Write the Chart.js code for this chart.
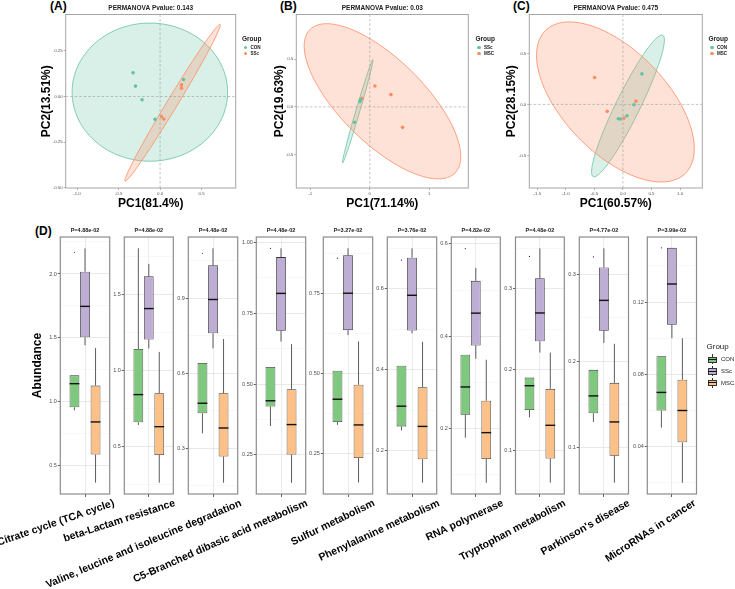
<!DOCTYPE html>
<html lang="en">
<head>
<meta charset="UTF-8" />
<title>PCA and pathway abundance</title>
<script src="https://cdn.jsdelivr.net/npm/chart.js@4.4.1/dist/chart.umd.min.js"></script>
<style>
  body { margin: 0; background: #fff; font-family: "Liberation Sans", Arial, Helvetica, sans-serif; }
  #wrap { position: relative; width: 735px; height: 589px; overflow: hidden; background: #fff; }
  #wrap canvas { position: absolute; left: 0; top: 0; }
  .tag { position: absolute; font-weight: bold; font-size: 12px; line-height: 12px; color: #000; }
  .lg { position: absolute; white-space: nowrap; color: #222; }
</style>
</head>
<body>
<div id="wrap">
  <div class="tag" style="left:50px; top:0px;">(A)</div>
  <div class="tag" style="left:280px; top:0px;">(B)</div>
  <div class="tag" style="left:513px; top:0px;">(C)</div>
  <div class="tag" style="left:35px; top:225px;">(D)</div>
</div>

<script>
// ---------- data: PCA panels ----------
const pcaTitles = ['PERMANOVA Pvalue: 0.143', 'PERMANOVA Pvalue: 0.03', 'PERMANOVA Pvalue: 0.475'];
const pcaGroups = [['CON', 'SSc'], ['SSc', 'MSC'], ['CON', 'MSC']];
const pc1Labels = ['PC1(81.4%)', 'PC1(71.14%)', 'PC1(60.57%)'];
const pc2Labels = ['PC2(13.51%)', 'PC2(19.63%)', 'PC2(28.15%)'];
const pcaXTicks = [[-1.0, -0.5, 0.0, 0.5], [-1, 0, 1], [-1.5, -1.0, -0.5, 0.0, 0.5, 1.0]];
const pcaYTicks = [[-0.50, -0.25, 0.00, 0.25], [-0.5, 0.0, 0.5], [-0.5, 0.0, 0.5]];
const pcaXDigits = [1, 0, 1];
const pcaYDigits = [2, 1, 1];
const pcaXRange = [[-1.136, 0.91], [-1.235, 1.655], [-1.64, 1.39]];
const pcaYRange = [[-0.502, 0.45], [-0.85, 0.969], [-0.819, 0.881]];

// sample scores [PC1, PC2]
const ptsA_CON = [[-0.325, 0.130], [-0.296, 0.057], [-0.217, -0.018], [-0.06, -0.125], [0.282, 0.093]];
const ptsA_SSc = [[0.258, 0.064], [0.258, 0.046], [0.017, -0.110], [0.045, -0.123]];
const ptsB_SSc = [[-0.166, 0.056], [-0.155, 0.077], [-0.257, -0.161]];
const ptsB_MSC = [[0.086, 0.22], [0.355, 0.129], [0.55, -0.214], [-0.133, 0.09]];
const ptsC_CON = [[0.333, 0.299], [0.193, -0.004], [0.07, -0.111], [-0.082, -0.14], [-0.04, -0.143]];
const ptsC_MSC = [[-0.497, 0.264], [-0.275, -0.068], [0.228, 0.032], [0.018, -0.134]];

// confidence ellipses: [cx, cy, axis1 x, axis1 y, axis2 x, axis2 y]
const ellA_CON = [-0.123, 0.024, 0.936, 0, 0, 0.379];
const ellA_SSc = [0.151, -0.034, 0.572, 0.430, 0.054, -0.015];
const ellB_SSc = [-0.203, -0.046, 0.255, 0.542, 0.032, -0.006];
const ellB_MSC = [0.213, 0.059, 1.22, -0.751, 0.492, 0.313];
const ellC_CON = [0.088, -0.015, 0.609, 0.692, 0.189, -0.052];
const ellC_MSC = [-0.132, 0.024, 1.221, -0.702, 0.647, 0.35];

const pcaPoints = [[ptsA_CON, ptsA_SSc], [ptsB_SSc, ptsB_MSC], [ptsC_CON, ptsC_MSC]];
const pcaEllipses = [[ellA_CON, ellA_SSc], [ellB_SSc, ellB_MSC], [ellC_CON, ellC_MSC]];

// ---------- data: boxplots ----------
const pathways = ['Citrate cycle (TCA cycle)', 'beta-Lactam resistance', 'Valine, leucine and isoleucine degradation',
  'C5-Branched dibasic acid metabolism', 'Sulfur metabolism', 'Phenylalanine metabolism', 'RNA polymerase',
  'Tryptophan metabolism', "Parkinson's disease", 'MicroRNAs in cancer'];
const pLabels = ['P=4.88e-02', 'P=4.88e-02', 'P=4.48e-02', 'P=4.48e-02', 'P=3.27e-02',
  'P=3.76e-02', 'P=4.82e-02', 'P=4.48e-02', 'P=4.77e-02', 'P=3.99e-02'];
const boxGroups = ['CON', 'SSc', 'MSC'];

// [lower whisker, Q1, median, Q3, upper whisker]
const conStats = [
  [0.935, 0.958, 1.143, 1.208, 1.208], [0.640, 0.658, 0.840, 1.140, 1.803], [0.36, 0.44, 0.48, 0.641, 0.641],
  [0.352, 0.421, 0.441, 0.560, 0.560], [0.34, 0.349, 0.42, 0.509, 0.509], [0.25, 0.26, 0.31, 0.41, 0.41],
  [0.18, 0.23, 0.29, 0.36, 0.36], [0.141, 0.15, 0.18, 0.19, 0.19], [0.13, 0.14, 0.16, 0.19, 0.19],
  [0.0505, 0.06, 0.07, 0.09, 0.09]];
const sscStats = [
  [1.443, 1.505, 1.747, 2.018, 2.20], [1.143, 1.202, 1.406, 1.618, 1.70], [0.70, 0.76, 0.895, 1.032, 1.10],
  [0.650, 0.688, 0.820, 0.948, 0.979], [0.62, 0.635, 0.75, 0.868, 0.89], [0.49, 0.497, 0.584, 0.677, 0.70],
  [0.351, 0.38, 0.45, 0.52, 0.548], [0.221, 0.235, 0.27, 0.313, 0.35], [0.221, 0.235, 0.27, 0.308, 0.33],
  [0.10, 0.1075, 0.13, 0.15, 0.15]];
const mscStats = [
  [0.37, 0.589, 0.844, 1.128, 1.422], [0.26, 0.443, 0.629, 0.849, 1.121], [0.162, 0.267, 0.381, 0.52, 0.737],
  [0.151, 0.251, 0.357, 0.482, 0.641], [0.161, 0.237, 0.34, 0.465, 0.60], [0.121, 0.179, 0.26, 0.357, 0.469],
  [0.082, 0.134, 0.191, 0.26, 0.349], [0.06, 0.09, 0.131, 0.176, 0.221], [0.06, 0.091, 0.13, 0.175, 0.22],
  [0.02, 0.0424, 0.06, 0.077, 0.10]];
const conOutliers = [2.17, null, 1.08, 0.979, 0.859, 0.671, 0.59, 0.34, 0.32, 0.15];

const boxYRange = [[0.281, 2.289], [0.186, 1.877], [0.117, 1.145], [0.112, 1.019], [0.125, 0.925],
  [0.093, 0.728], [0.058, 0.615], [0.046, 0.364], [0.047, 0.343], [0.0138, 0.156]];
const boxYTicks = [[0.5, 1.0, 1.5, 2.0], [0.5, 1.0, 1.5], [0.3, 0.6, 0.9], [0.25, 0.50, 0.75, 1.00],
  [0.25, 0.50, 0.75], [0.2, 0.4, 0.6], [0.2, 0.4, 0.6], [0.1, 0.2, 0.3], [0.1, 0.2, 0.3], [0.04, 0.08, 0.12]];
const boxYDigits = [1, 1, 1, 2, 2, 1, 1, 1, 1, 2];

// ---------- layout & style ----------
const W = 735, H = 589;
const pcaColors = ['#66C2A5', '#FC8D62'];
const pcaFills = ['rgba(102,194,165,0.25)', 'rgba(252,141,98,0.25)'];
const pcaBox = [
  { left: 65.7, right: 235.7, axisLeft: 39.5, legend: 242 },
  { left: 296.3, right: 468.3, axisLeft: 272.1, legend: 475.5 },
  { left: 529.3, right: 702.3, axisLeft: 504.5, legend: 708.5 }];
const pcaTop = 14.5, pcaBottom = 188;
const boxFills = ['#7FC97F', '#BEAED4', '#FDC086'];
const panelLeft = [60.3, 124.3, 188.3, 256.3, 323.3, 387.3, 451.3, 515.5, 579.3, 647.3];
const panelRight = [109.7, 173.3, 237.7, 305.7, 372.7, 436.7, 500.3, 564.3, 628.5, 696.5];
const labelAngle = [19, 18, 23, 24, 26, 25, 25, 28, 30, 33];
const labelShift = [29, 26, 28, 26, 26, 27, 27, 25, 25, 23];
const boxTop = 237, boxBottom = 494;

Chart.defaults.font.family = '"Liberation Sans", Arial, Helvetica, sans-serif';
Chart.defaults.animation = false;
Chart.defaults.responsive = false;

const wrap = document.getElementById('wrap');
function addCanvas() {
  const c = document.createElement('canvas');
  c.width = W; c.height = H;
  wrap.appendChild(c);
  return c;
}

function borderPlugin(color, lw) {
  return {
    id: 'panelBorder',
    afterDatasetsDraw(chart) {
      const { ctx, chartArea: a } = chart;
      ctx.save();
      ctx.strokeStyle = color; ctx.lineWidth = lw;
      ctx.strokeRect(a.left, a.top, a.right - a.left, a.bottom - a.top);
      ctx.restore();
    }
  };
}

function ellipsePlugin(list) {
  return {
    id: 'ellipses',
    beforeDatasetsDraw(chart) {
      const { ctx, chartArea: a, scales: { x, y } } = chart;
      ctx.save();
      list.forEach((e, k) => {
        ctx.beginPath();
        for (let s = 0; s <= 120; s++) {
          const t = s / 120 * Math.PI * 2;
          const px = x.getPixelForValue(e[0] + e[2] * Math.cos(t) + e[4] * Math.sin(t));
          const py = y.getPixelForValue(e[1] + e[3] * Math.cos(t) + e[5] * Math.sin(t));
          s ? ctx.lineTo(px, py) : ctx.moveTo(px, py);
        }
        ctx.closePath();
        ctx.fillStyle = pcaFills[k];
        ctx.fill();
        ctx.strokeStyle = pcaColors[k];
        ctx.lineWidth = 0.8;
        ctx.stroke();
      });
      // zero reference lines
      ctx.strokeStyle = '#9a9a9a'; ctx.lineWidth = 0.6; ctx.setLineDash([2.5, 2]);
      ctx.beginPath();
      const x0 = x.getPixelForValue(0), y0 = y.getPixelForValue(0);
      ctx.moveTo(x0, a.top); ctx.lineTo(x0, a.bottom);
      ctx.moveTo(a.left, y0); ctx.lineTo(a.right, y0);
      ctx.stroke();
      ctx.restore();
    }
  };
}

function pcaChart(p) {
  const b = pcaBox[p];
  new Chart(addCanvas(), {
    type: 'scatter',
    data: {
      datasets: pcaPoints[p].map((pts, k) => ({
        label: pcaGroups[p][k],
        data: pts.map(([x, y]) => ({ x, y })),
        backgroundColor: pcaColors[k],
        borderWidth: 0,
        pointRadius: 1.8
      }))
    },
    options: {
      layout: { padding: { left: b.axisLeft, right: W - b.right, top: pcaTop - 9.8, bottom: H - pcaBottom - 22.5 } },
      plugins: {
        legend: { display: false },
        tooltip: { enabled: false },
        title: {
          display: true, text: pcaTitles[p], fullSize: false, color: '#222',
          font: { size: 6.5, weight: 'bold' }, padding: { top: 0, bottom: 2 }
        }
      },
      scales: {
        x: {
          type: 'linear', min: pcaXRange[p][0], max: pcaXRange[p][1],
          afterBuildTicks: s => { s.ticks = pcaXTicks[p].map(v => ({ value: v })); },
          afterFit: s => { s.height = 22.5; },
          ticks: { callback: v => v.toFixed(pcaXDigits[p]), font: { size: 4.4 }, color: '#555', padding: 1, maxRotation: 0 },
          grid: { drawOnChartArea: false, tickLength: 2, color: '#666', lineWidth: 0.5 },
          border: { display: false },
          title: { display: true, text: pc1Labels[p], color: '#000', font: { size: 12, weight: 'bold' }, padding: 0 }
        },
        y: {
          min: pcaYRange[p][0], max: pcaYRange[p][1],
          afterBuildTicks: s => { s.ticks = pcaYTicks[p].map(v => ({ value: v })); },
          afterFit: s => { s.width = b.left - b.axisLeft; },
          ticks: { callback: v => v.toFixed(pcaYDigits[p]), font: { size: 4.4 }, color: '#555', padding: 1 },
          grid: { drawOnChartArea: false, tickLength: 2, color: '#666', lineWidth: 0.5 },
          border: { display: false },
          title: { display: true, text: pc2Labels[p], color: '#000', font: { size: 12, weight: 'bold' }, padding: 0 }
        }
      }
    },
    plugins: [ellipsePlugin(pcaEllipses[p]), borderPlugin('#a5a5a5', 1)]
  });

  // legend
  const g = document.createElement('div');
  g.className = 'lg';
  g.style.cssText = 'left:' + b.legend + 'px; top:35px; font-size:6.5px; font-weight:bold;';
  g.textContent = 'Group';
  wrap.appendChild(g);
  pcaGroups[p].forEach((name, k) => {
    const it = document.createElement('div');
    it.className = 'lg';
    it.style.cssText = 'left:' + b.legend + 'px; top:' + (44.5 + k * 6.2) + 'px; font-size:4.6px; line-height:6px; font-weight:bold;';
    it.innerHTML = '<span style="display:inline-block;width:3.6px;height:3.6px;border-radius:50%;background:' +
      pcaColors[k] + ';margin:0 3.2px 0 1.6px;vertical-align:-0.6px"></span>' + name;
    wrap.appendChild(it);
  });
}

const boxStats = [conStats, sscStats, mscStats];

const boxExtras = {
  id: 'boxExtras',
  beforeDatasetsDraw(chart) {
    const { ctx, scales: { y } } = chart;
    ctx.save();
    ctx.strokeStyle = '#333'; ctx.lineWidth = 0.8;
    chart.data.datasets.forEach((ds, k) => {
      const bar = chart.getDatasetMeta(k).data[0];
      const s = ds.stats;
      ctx.beginPath();
      ctx.moveTo(bar.x, y.getPixelForValue(s[0])); ctx.lineTo(bar.x, y.getPixelForValue(s[1]));
      ctx.moveTo(bar.x, y.getPixelForValue(s[3])); ctx.lineTo(bar.x, y.getPixelForValue(s[4]));
      ctx.stroke();
    });
    ctx.restore();
  },
  afterDatasetsDraw(chart) {
    const { ctx, scales: { y } } = chart;
    ctx.save();
    chart.data.datasets.forEach((ds, k) => {
      const bar = chart.getDatasetMeta(k).data[0];
      const ym = y.getPixelForValue(ds.stats[2]);
      ctx.strokeStyle = '#111'; ctx.lineWidth = 1.4;
      ctx.beginPath();
      ctx.moveTo(bar.x - bar.width / 2, ym); ctx.lineTo(bar.x + bar.width / 2, ym);
      ctx.stroke();
      if (ds.outlier != null) {
        ctx.fillStyle = '#222';
        ctx.beginPath();
        ctx.arc(bar.x, y.getPixelForValue(ds.outlier), 0.6, 0, Math.PI * 2);
        ctx.fill();
      }
    });
    ctx.restore();
  }
};

function boxChart(i) {
  const major = boxYTicks[i];
  const step = major[1] - major[0];
  const [ymin, ymax] = boxYRange[i];
  const all = [];
  for (let v = major[0] - step / 2; v <= ymax + 1e-9; v += step / 2) {
    if (v >= ymin - 1e-9) all.push(v);
  }
  const isMajor = all.map(v => major.some(m => Math.abs(m - v) < step / 10));
  const axisW = i === 0 ? 29.5 : 22;

  new Chart(addCanvas(), {
    type: 'bar',
    data: {
      labels: [pathways[i]],
      datasets: boxGroups.map((g, k) => ({
        label: g,
        data: [[boxStats[k][i][1], boxStats[k][i][3]]],
        stats: boxStats[k][i],
        outlier: k === 0 ? conOutliers[i] : null,
        backgroundColor: boxFills[k],
        borderColor: '#333',
        borderWidth: 0.8,
        borderSkipped: false,
        categoryPercentage: 0.64,
        barPercentage: 0.93
      }))
    },
    options: {
      layout: { padding: { left: panelLeft[i] - axisW, right: W - panelRight[i], top: boxTop - 9.6, bottom: 0 } },
      plugins: {
        legend: { display: false },
        tooltip: { enabled: false },
        title: {
          display: true, text: pLabels[i], fullSize: false, color: '#222',
          font: { size: 5.5, weight: 'bold' }, padding: { top: 0, bottom: 3 }
        }
      },
      scales: {
        x: {
          grid: { offset: false, color: '#e6e6e6', lineWidth: 0.8, tickColor: '#333', tickLength: 3 },
          border: { display: false },
          ticks: {
            autoSkip: false, minRotation: labelAngle[i], maxRotation: labelAngle[i],
            labelOffset: labelShift[i], padding: 0,
            color: '#000', font: { size: 10.5, weight: 'bold' }
          },
          // axis box reaches the bottom edge so the long rotated labels are not clipped
          afterFit: s => { s.height = H - boxBottom; s.paddingLeft = 0; s.paddingRight = 0; }
        },
        y: {
          min: ymin, max: ymax,
          afterBuildTicks: s => { s.ticks = all.map(v => ({ value: v })); },
          afterFit: s => { s.width = axisW; },
          ticks: {
            callback: (v, idx) => isMajor[idx] ? v.toFixed(boxYDigits[i]) : '',
            font: { size: 5.5 }, color: '#4d4d4d', padding: 1
          },
          grid: {
            color: c => isMajor[c.index] ? '#e3e3e3' : '#f1f1f1',
            lineWidth: c => isMajor[c.index] ? 0.8 : 0.5,
            tickColor: c => isMajor[c.index] ? '#333' : 'rgba(0,0,0,0)',
            tickLength: 2.5
          },
          border: { display: false },
          title: {
            display: i === 0, text: 'Abundance', color: '#000',
            font: { size: 12, weight: 'bold' }, padding: 0
          }
        }
      }
    },
    plugins: [boxExtras, borderPlugin('#8c8c8c', 1.2)]
  });
}

for (let p = 0; p < 3; p++) pcaChart(p);
for (let i = 0; i < pathways.length; i++) boxChart(i);

// boxplot legend
(function () {
  const t = document.createElement('div');
  t.className = 'lg';
  t.style.cssText = 'left:706.5px; top:342px; font-size:8px; line-height:10px;';
  t.textContent = 'Group';
  wrap.appendChild(t);
  boxGroups.forEach((name, k) => {
    const cy = 359.3 + k * 11.8;
    const g = document.createElement('div');
    g.className = 'lg';
    g.style.cssText = 'left:708px; top:' + (cy - 5) + 'px; width:9px; height:10px;';
    g.innerHTML =
      '<div style="position:absolute;left:4.1px;top:0;width:0.8px;height:10px;background:#333"></div>' +
      '<div style="position:absolute;left:0;top:2.3px;width:7.4px;height:4.2px;border:0.8px solid #333;background:' + boxFills[k] + '"></div>' +
      '<div style="position:absolute;left:0;top:4.6px;width:9px;height:1px;background:#111"></div>';
    wrap.appendChild(g);
    const l = document.createElement('div');
    l.className = 'lg';
    l.style.cssText = 'left:721px; top:' + (cy - 4) + 'px; font-size:6px; line-height:8px;';
    l.textContent = name;
    wrap.appendChild(l);
  });
})();
</script>
</body>
</html>
